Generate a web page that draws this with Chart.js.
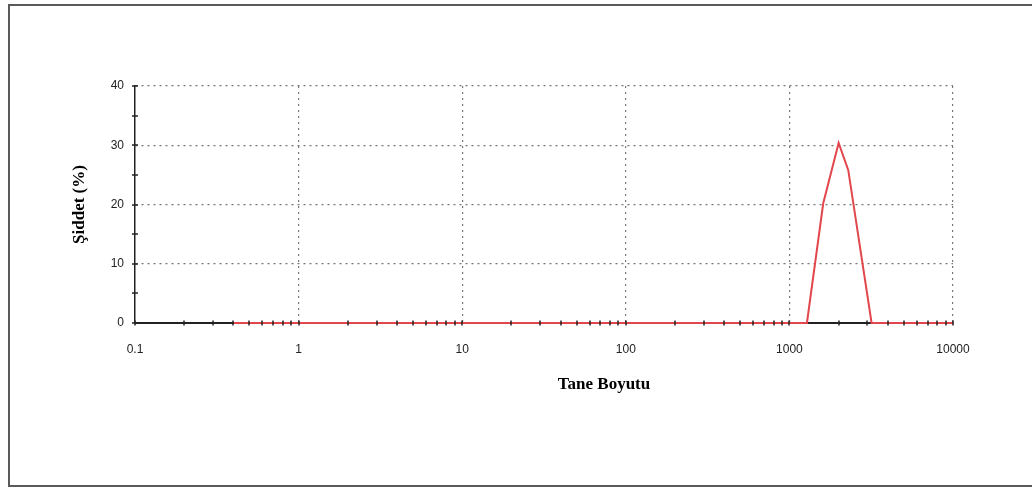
<!DOCTYPE html>
<html>
<head>
<meta charset="utf-8">
<script src="https://cdn.jsdelivr.net/npm/chart.js@4/dist/chart.umd.min.js"></script>
<style>
  html, body { margin: 0; padding: 0; background: #fff; overflow: hidden; }
  #sizeChart { display: block; }
</style>
</head>
<body>
<canvas id="sizeChart" width="1032" height="491"></canvas>
<script>
// particle size distribution
const sizes = [0.4, 1280, 1610, 2000, 2290, 3180, 10000];
const intensity = [0, 0, 20.2, 30.4, 25.8, 0, 0];
const xTickLabels = ['0.1', '1', '10', '100', '1000', '10000'];
const yTickLabels = [0, 10, 20, 30, 40];

const isDecade = v => Math.abs(Math.log10(v) - Math.round(Math.log10(v))) < 1e-9;

// outer frame + x title + tick marks crossing the axes
const decor = {
    id: 'decor',
    beforeDraw(chart) {
        const ctx = chart.ctx;
        ctx.save();
        ctx.strokeStyle = '#5a5a5a';
        ctx.lineWidth = 2;
        ctx.beginPath();
        ctx.moveTo(1032, 5);
        ctx.lineTo(9, 5);
        ctx.lineTo(9, 486);
        ctx.lineTo(1032, 486);
        ctx.stroke();
        ctx.restore();
    },
    afterDatasetsDraw(chart) {
        const ctx = chart.ctx;
        const x = chart.scales.x, y = chart.scales.y;
        ctx.save();
        ctx.strokeStyle = '#222';
        ctx.lineWidth = 1.5;
        x.ticks.forEach(t => {
            const px = Math.round(x.getPixelForValue(t.value));
            ctx.beginPath();
            ctx.moveTo(px, y.bottom - 2.5);
            ctx.lineTo(px, y.bottom + 2.5);
            ctx.stroke();
        });
        y.ticks.forEach(t => {
            const py = Math.round(y.getPixelForValue(t.value));
            ctx.beginPath();
            ctx.moveTo(x.left - 3, py);
            ctx.lineTo(x.left + 3, py);
            ctx.stroke();
        });
        ctx.fillStyle = '#000';
        ctx.font = 'bold 17px "Liberation Serif"';
        ctx.textAlign = 'center';
        ctx.textBaseline = 'middle';
        ctx.fillText('Tane Boyutu', 604, 385);
        ctx.restore();
    }
};

new Chart(document.getElementById('sizeChart'), {
    type: 'line',
    data: {
        datasets: [{
            data: sizes.map((s, i) => ({ x: s, y: intensity[i] })),
            borderColor: '#e2474d',
            borderWidth: 2,
            pointRadius: 0,
            tension: 0,
            clip: false
        }]
    },
    options: {
        responsive: false,
        animation: false,
        layout: { padding: { left: 65, right: 79, top: 86, bottom: 128 } },
        plugins: { legend: { display: false }, tooltip: { enabled: false } },
        scales: {
            x: {
                type: 'logarithmic',
                min: 0.1,
                max: 10000,
                afterFit: s => { s.height = 40; },
                // 1..9 x 10^n minor ticks, labels only on decades
                afterBuildTicks: s => {
                    const ticks = [];
                    for (let e = -1; e < 4; e++) {
                        for (let m = 1; m < 10; m++) {
                            ticks.push({ value: Number((m * Math.pow(10, e)).toPrecision(2)) });
                        }
                    }
                    ticks.push({ value: 10000 });
                    s.ticks = ticks;
                },
                grid: {
                    drawTicks: false,
                    color: c => (c.tick && isDecade(c.tick.value) && c.tick.value > 0.15) ? '#777' : 'rgba(0,0,0,0)',
                    lineWidth: 1.2
                },
                border: { color: '#222', width: 2, dash: [2, 4] },
                ticks: {
                    autoSkip: false,
                    maxRotation: 0,
                    padding: 19,
                    color: '#222',
                    font: { family: '"Liberation Sans"', size: 12 },
                    callback: v => {
                        const lbl = String(Number(Number(v).toPrecision(1)));
                        return isDecade(v) && xTickLabels.includes(lbl) ? lbl : '';
                    }
                }
            },
            y: {
                min: 0,
                max: 40,
                afterFit: s => { s.width = 70; },
                grid: {
                    drawTicks: false,
                    color: c => (c.tick && c.tick.value > 0 && c.tick.value % 10 === 0) ? '#777' : 'rgba(0,0,0,0)',
                    lineWidth: 1.2
                },
                border: { color: '#222', width: 1.5, dash: [2, 4] },
                ticks: {
                    stepSize: 5,
                    padding: 11,
                    color: '#222',
                    font: { family: '"Liberation Sans"', size: 12 },
                    callback: v => yTickLabels.includes(v) ? String(v) : ''
                },
                title: {
                    display: true,
                    text: 'Şiddet (%)',
                    color: '#000',
                    font: { family: '"Liberation Serif"', size: 17, weight: 'bold' },
                    padding: { bottom: 15 }
                }
            }
        }
    },
    plugins: [decor]
});
</script>
</body>
</html>
